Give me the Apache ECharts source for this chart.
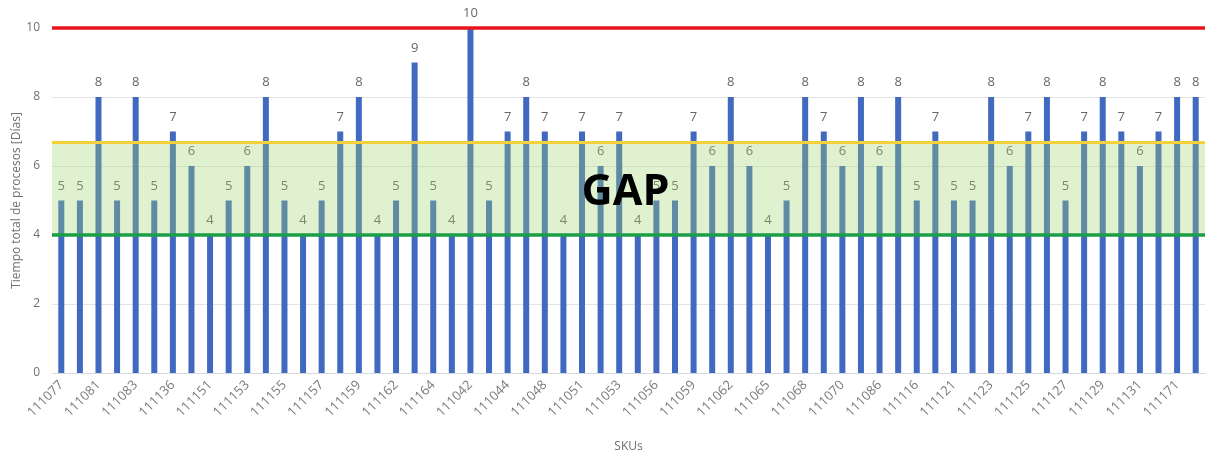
<!DOCTYPE html>
<html>
<head>
<meta charset="utf-8">
<script src="https://cdn.jsdelivr.net/npm/echarts@6/dist/echarts.min.js"></script>
<style>
  html, body { margin: 0; padding: 0; background: #ffffff; }
  #chart { width: 1219px; height: 454px; }
</style>
</head>
<body>
<div id="chart"></div>
<script>
// SKU codes (every other one is shown on the axis)
const skus = [
  '111077','111080','111081','111082','111083','111135','111136','111150','111151','111152',
  '111153','111154','111155','111156','111157','111158','111159','111160','111162','111163',
  '111164','111041','111042','111043','111044','111045','111048','111050','111051','111052',
  '111053','111055','111056','111058','111059','111061','111062','111064','111065','111067',
  '111068','111069','111070','111085','111086','111115','111116','111120','111121','111122',
  '111123','111124','111125','111126','111127','111128','111129','111130','111131','111170',
  '111171','111172'
];

// Total process time per SKU, in days
const dias = [
  5,5,8,5,8,5,7,6,4,5,
  6,8,5,4,5,7,8,4,5,9,
  5,4,10,5,7,8,7,4,7,6,
  7,4,5,5,7,6,8,6,4,5,
  8,7,6,8,6,8,5,7,5,5,
  8,6,7,8,5,7,8,7,6,7,
  8,8
];

// Reference levels (days)
const limiteMaximo = 10;
const limiteSuperiorGap = 6.7;
const limiteInferiorGap = 4;

// Y axis ticks
const yMin = 0, yMax = 10, yStep = 2;

const chart = echarts.init(document.getElementById('chart'));

chart.setOption({
  animation: false,
  backgroundColor: '#ffffff',
  textStyle: { fontFamily: 'Open Sans, Liberation Sans, sans-serif' },
  grid: { left: 52, right: 14, top: 28, bottom: 81, containLabel: false, outerBoundsMode: 'none' },
  xAxis: {
    type: 'category',
    data: skus,
    name: 'SKUs',
    nameLocation: 'middle',
    nameGap: 68,
    nameMoveOverlap: false,
    nameTextStyle: { color: '#707070', fontSize: 12 },
    axisLine: { show: true, lineStyle: { color: '#d9d9d9' } },
    axisTick: { show: false },
    axisLabel: {
      interval: 1,
      rotate: 45,
      color: '#7a7a7a',
      fontSize: 13,
      margin: 10
    }
  },
  yAxis: {
    type: 'value',
    min: yMin,
    max: yMax,
    interval: yStep,
    name: 'Tiempo total de procesos [Días]',
    nameLocation: 'middle',
    nameGap: 29,
    nameMoveOverlap: false,
    nameRotate: 90,
    nameTextStyle: { color: '#707070', fontSize: 12 },
    axisLine: { show: false },
    axisTick: { show: false },
    axisLabel: { color: '#707070', fontSize: 12, margin: 12 },
    splitLine: { lineStyle: { color: '#e4e4e4', width: 1 } }
  },
  series: [
    {
      name: 'Días',
      type: 'bar',
      data: dias,
      barWidth: 6,
      z: 2,
      itemStyle: { color: '#4169c0' },
      label: {
        show: true,
        position: 'top',
        distance: 8,
        color: '#666666',
        fontSize: 13
      }
    },
    {
      // overlay with the target band and the reference lines
      name: 'Referencias',
      type: 'line',
      data: [],
      z: 5,
      silent: true,
      markArea: {
        silent: true,
        z: 4,
        itemStyle: { color: 'rgba(160, 212, 110, 0.32)' },
        label: {
          show: true,
          position: 'inside',
          color: '#000000',
          fontSize: 43,
          fontWeight: 'bold',
          fontFamily: 'Open Sans, Liberation Sans, sans-serif',
          offset: [-3, 4]
        },
        data: [[
          { name: 'GAP', yAxis: limiteInferiorGap },
          { yAxis: limiteSuperiorGap }
        ]]
      },
      markLine: {
        silent: true,
        z: 6,
        symbol: ['none', 'none'],
        label: { show: false },
        data: [
          { yAxis: limiteMaximo, lineStyle: { color: '#e8141c', width: 3.5, type: 'solid' } },
          { yAxis: limiteSuperiorGap, lineStyle: { color: '#f2d13a', width: 3, type: 'solid' } },
          { yAxis: limiteInferiorGap, lineStyle: { color: '#1a9e46', width: 3.5, type: 'solid' } }
        ]
      }
    }
  ]
});
</script>
</body>
</html>
